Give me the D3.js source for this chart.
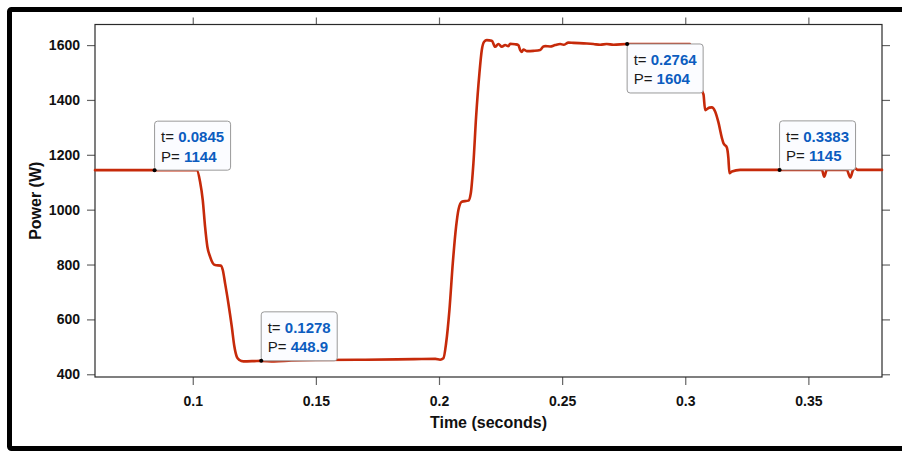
<!DOCTYPE html>
<html>
<head>
<meta charset="utf-8">
<script src="https://cdn.jsdelivr.net/npm/d3@7"></script>
<style>
  html, body { margin: 0; padding: 0; background: #ffffff; }
  svg { display: block; }
  text { font-family: "Liberation Sans", Arial, Helvetica, sans-serif; }
</style>
</head>
<body>
<svg id="chart" width="902" height="451"></svg>
<script>
// Measured power trace (time in seconds, power in watts)
const time = [
  0.0603, 0.0845, 0.1010, 0.10162, 0.10297, 0.10406, 0.1050, 0.10593, 0.10703, 0.10812,
  0.10906, 0.11137, 0.11219, 0.11312, 0.11446, 0.11584, 0.1169, 0.11787, 0.11893, 0.12055,
  0.1250, 0.1278, 0.1330, 0.1400, 0.1500, 0.1700, 0.1900, 0.1985, 0.20045, 0.20179,
  0.20288, 0.20423, 0.2056, 0.20694, 0.20788, 0.20926, 0.21194, 0.21291, 0.21397, 0.21507,
  0.21641, 0.21738, 0.21832, 0.21941, 0.22145, 0.22279, 0.22413, 0.22551, 0.22685, 0.22819,
  0.22888, 0.23091, 0.23225, 0.23294, 0.2336, 0.23428, 0.23566, 0.23834, 0.24107, 0.2424,
  0.2431, 0.24513, 0.24716, 0.24919, 0.2506, 0.25256, 0.25459, 0.26003, 0.26271, 0.26544,
  0.2681, 0.27084, 0.2764, 0.3020, 0.3026, 0.3050, 0.3074, 0.30808, 0.3098, 0.3108,
  0.31214, 0.31348, 0.31487, 0.31552, 0.31689, 0.31750, 0.31795, 0.31893, 0.3223, 0.3383,
  0.3555, 0.3564, 0.3575, 0.3656, 0.3670, 0.3681, 0.3690, 0.3700, 0.3799
];
const power = [
  1144, 1144, 1144, 1144, 1102, 1035, 938, 865, 829, 805,
  798, 796, 780, 732, 659, 574, 501, 464, 452, 447,
  448, 448.9, 447, 450, 452, 453, 455, 456, 453, 458,
  513, 634, 805, 938, 999, 1029, 1033, 1060, 1169, 1339,
  1497, 1582, 1612, 1618, 1616, 1594, 1604, 1594, 1600, 1596,
  1605, 1603, 1600, 1582, 1575, 1584, 1578, 1579, 1582, 1595,
  1596, 1595, 1600, 1604, 1601, 1609, 1608, 1606, 1604, 1601,
  1604, 1601, 1604, 1604, 1560, 1460, 1420, 1363, 1372, 1373,
  1358, 1318, 1262, 1242, 1227, 1190, 1133, 1139, 1145, 1145,
  1145, 1120, 1145, 1145, 1117, 1143, 1151, 1145, 1145
];

// Axis ticks
const xTicks = [0.1, 0.15, 0.2, 0.25, 0.3, 0.35];
const xTickLabels = ["0.1", "0.15", "0.2", "0.25", "0.3", "0.35"];
const yTicks = [400, 600, 800, 1000, 1200, 1400, 1600];
const yTickLabels = ["400", "600", "800", "1000", "1200", "1400", "1600"];

// Data tips
const tipTime = [0.0845, 0.1278, 0.2764, 0.3383];
const tipPower = [1144, 448.9, 1604, 1145];
const tipTimeText = ["0.0845", "0.1278", "0.2764", "0.3383"];
const tipPowerText = ["1144", "448.9", "1604", "1145"];

const svg = d3.select("#chart");
const plot = { left: 95, right: 882, top: 24.5, bottom: 377 };

// Figure frame
svg.append("rect")
  .attr("x", 9.5).attr("y", 9.5)
  .attr("width", 1000).attr("height", 439)
  .attr("rx", 2)
  .attr("fill", "#ffffff")
  .attr("stroke", "#000000")
  .attr("stroke-width", 5);

const x = d3.scaleLinear().domain([0.0603, 0.3799]).range([plot.left, plot.right]);
const y = d3.scaleLinear().domain([390, 1675]).range([plot.bottom, plot.top]);

const tickColor = "#666666";
const fmtX = (d, i) => xTickLabels[i];
const fmtY = (d, i) => yTickLabels[i];

// Bottom axis
const gB = svg.append("g").attr("transform", `translate(0,${plot.bottom})`)
  .call(d3.axisBottom(x).tickValues(xTicks).tickFormat(fmtX).tickSize(8).tickPadding(11));
// Top axis (ticks only)
const gT = svg.append("g").attr("transform", `translate(0,${plot.top})`)
  .call(d3.axisTop(x).tickValues(xTicks).tickFormat("").tickSize(7));
// Left axis
const gL = svg.append("g").attr("transform", `translate(${plot.left},0)`)
  .call(d3.axisLeft(y).tickValues(yTicks).tickFormat(fmtY).tickSize(8).tickPadding(7));
// Right axis (ticks only)
const gR = svg.append("g").attr("transform", `translate(${plot.right},0)`)
  .call(d3.axisRight(y).tickValues(yTicks).tickFormat("").tickSize(8));

[gB, gT, gL, gR].forEach(g => {
  g.select(".domain").remove();
  g.selectAll(".tick line").attr("stroke", tickColor).attr("stroke-width", 1.2);
  g.selectAll(".tick text")
    .attr("fill", "#111111")
    .style("font-family", "'Liberation Sans', Arial, sans-serif")
    .style("font-weight", "bold")
    .style("font-size", "14px");
});

// Plot box
svg.append("rect")
  .attr("x", plot.left).attr("y", plot.top)
  .attr("width", plot.right - plot.left).attr("height", plot.bottom - plot.top)
  .attr("fill", "none")
  .attr("stroke", "#2a2a2a")
  .attr("stroke-width", 1.2);

// Axis titles
svg.append("text")
  .attr("x", (plot.left + plot.right) / 2).attr("y", 428)
  .attr("text-anchor", "middle")
  .style("font-weight", "bold").style("font-size", "16px")
  .attr("fill", "#111111")
  .text("Time (seconds)");

svg.append("text")
  .attr("transform", `translate(41,${(plot.top + plot.bottom) / 2}) rotate(-90)`)
  .attr("text-anchor", "middle")
  .style("font-weight", "bold").style("font-size", "16px")
  .attr("fill", "#111111")
  .text("Power (W)");

// Power trace
const series = time.map((t, i) => ({ t, p: power[i] }));
svg.append("path")
  .datum(series)
  .attr("fill", "none")
  .attr("stroke", "#c62a0a")
  .attr("stroke-width", 2.6)
  .attr("stroke-linejoin", "round")
  .attr("stroke-linecap", "round")
  .attr("d", d3.line().curve(d3.curveMonotoneX).x(d => x(d.t)).y(d => y(d.p)));

// Data tips: box anchored at the marked point, dropped below when near the top
const tipH = 49;
tipTime.forEach((t, i) => {
  const px = x(t), py = y(tipPower[i]);
  const below = py < plot.top + (plot.bottom - plot.top) * 0.15;
  const g = svg.append("g");
  const box = g.append("rect")
    .attr("fill", "#fbfcff")
    .attr("stroke", "#9a9a9a")
    .attr("stroke-width", 1)
    .attr("rx", 3);
  const top = below ? py : py - tipH;
  const lines = [["t= ", tipTimeText[i]], ["P= ", tipPowerText[i]]];
  const texts = lines.map((ln, k) => {
    const tx = g.append("text")
      .attr("x", px + 6.5)
      .attr("y", top + 21 + k * 19.5)
      .style("font-size", "15px");
    tx.append("tspan").attr("fill", "#1a1a1a").text(ln[0]);
    tx.append("tspan").attr("fill", "#0b5cbf").style("font-weight", "bold").text(ln[1]);
    return tx;
  });
  const wMax = d3.max(texts, tx => tx.node().getComputedTextLength());
  box.attr("x", px).attr("y", top)
    .attr("width", wMax + 13).attr("height", tipH);
  g.append("circle")
    .attr("cx", px).attr("cy", py).attr("r", 2)
    .attr("fill", "#000000");
});
</script>
</body>
</html>
